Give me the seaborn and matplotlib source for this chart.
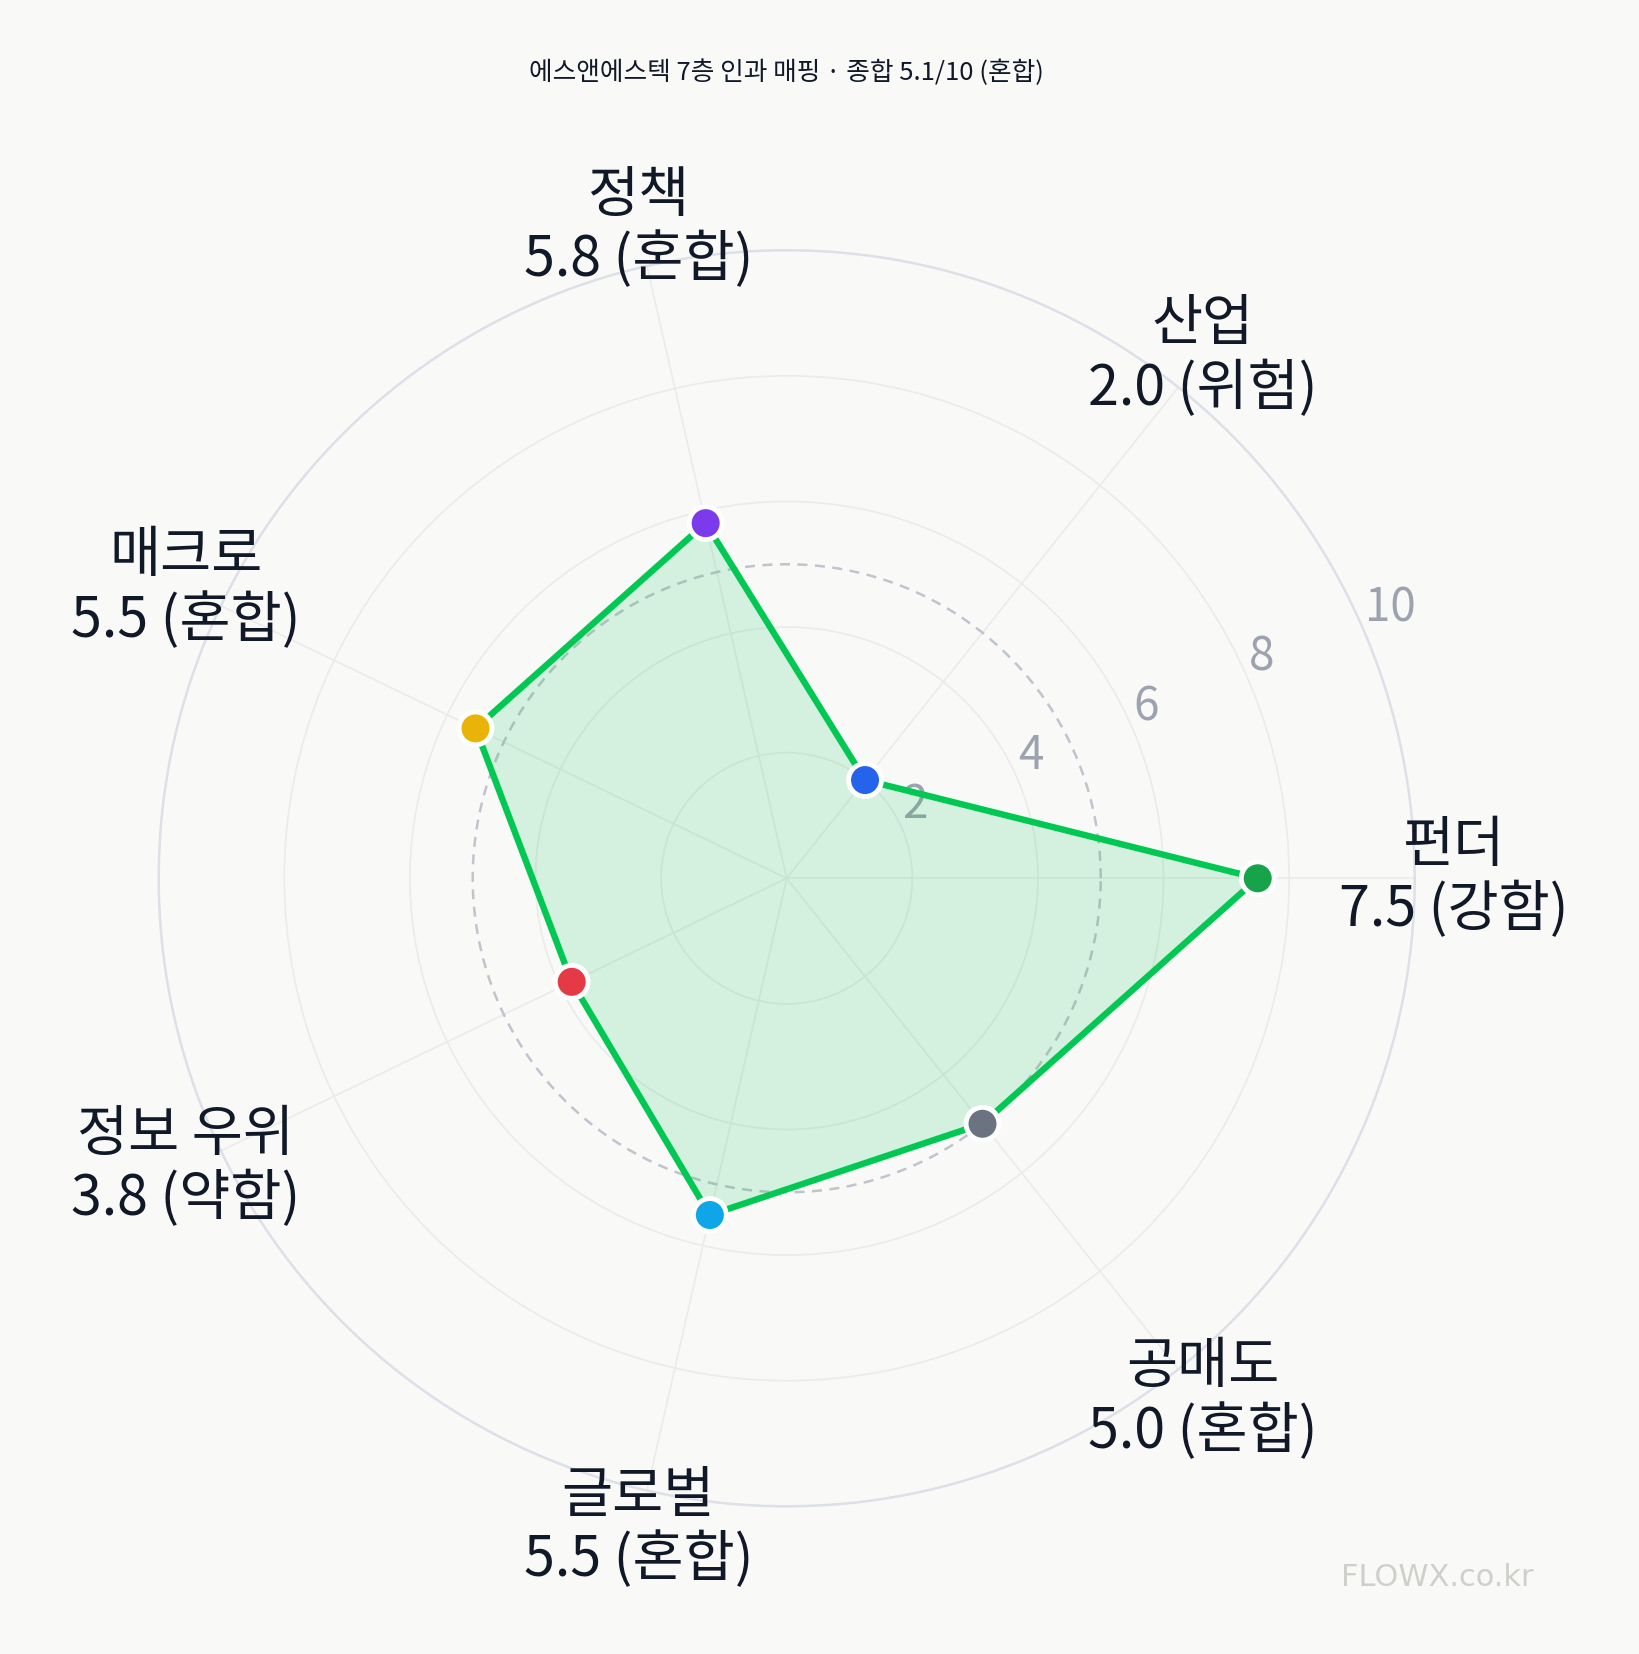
import numpy as np
import pandas as pd
import matplotlib
matplotlib.use("Agg")
import matplotlib.pyplot as plt
import seaborn as sns

# ==========================================================
# DATA
# ==========================================================

layers = ["펀더", "산업", "정책", "매크로", "정보 우위", "글로벌", "공매도"]
scores = [7.5, 2.0, 5.8, 5.5, 3.8, 5.5, 5.0]
grades = ["강함", "위험", "혼합", "혼합", "약함", "혼합", "혼합"]
dot_colors = ["#16a34a", "#2563eb", "#7c3aed", "#eab308", "#e63946", "#0ea5e9", "#6b7280"]
r_ticks = [2, 4, 6, 8, 10]
mid_level = 5
title = "에스앤에스텍 7층 인과 매핑 · 종합 5.1/10 (혼합)"

# ==========================================================
# STYLE
# ==========================================================

sns.set_theme(style="white")
plt.rcParams["font.family"] = ["Noto Sans CJK KR", "DejaVu Sans"]

bg = "#f9f9f8"
ink = "#111827"

angles = np.linspace(0, 2 * np.pi, len(layers), endpoint=False)

df = pd.DataFrame({
    "layer": layers,
    "theta": angles,
    "score": scores,
})

fig = plt.figure(figsize=(16.39, 16.54), dpi=100, facecolor=bg)

ax = fig.add_axes([0.0967, 0.0893, 0.7666, 0.7594], projection="polar")
ax.set_facecolor(bg)

ax.set_ylim(0, 10)
ax.set_xticks(angles)
ax.set_xticklabels([])
ax.set_yticks(r_ticks)
ax.set_yticklabels([str(t) for t in r_ticks], color="#9ca3af", fontsize=33)
ax.set_rlabel_position(23)
ax.tick_params(axis="y", pad=0)

ax.grid(True, color="#ebebeb", linewidth=1.2)
ax.spines["polar"].set_color("#dde0e7")
ax.spines["polar"].set_linewidth(1.8)

# mid reference ring
ring = np.linspace(0, 2 * np.pi, 300)
ax.plot(ring, np.full_like(ring, mid_level), color="#c0c4cc",
        linestyle=(0, (4, 3)), linewidth=1.8, zorder=2)

# ==========================================================
# POLYGON
# ==========================================================

theta_closed = np.append(angles, angles[0])
score_closed = np.append(scores, scores[0])

ax.fill(theta_closed, score_closed, color="#22c55e", alpha=0.17, zorder=3, linewidth=0)
ax.plot(theta_closed, score_closed, color="#00c853", linewidth=4.6, zorder=4)

sns.scatterplot(
    data=df,
    x="theta",
    y="score",
    hue="layer",
    palette=dict(zip(layers, dot_colors)),
    s=560,
    edgecolor="white",
    linewidth=3.5,
    legend=False,
    zorder=5,
    ax=ax,
)
ax.set_xlabel("")
ax.set_ylabel("")

# ==========================================================
# LABELS
# ==========================================================

for th, name, sc, gr in zip(angles, layers, scores, grades):
    ax.text(th, 10.62, f"{name}\n{sc:.1f} ({gr})",
            ha="center", va="center", fontsize=40, color=ink,
            linespacing=1.15, clip_on=False, zorder=6)

fig.text(0.48, 0.956, title, ha="center", va="center", fontsize=18.5, color=ink)
fig.text(0.877, 0.046, "FLOWX.co.kr", ha="center", va="center",
         fontsize=22, color="#cfcfcb", family=["DejaVu Sans"])

fig.savefig("out.png", dpi=100, facecolor=bg)
